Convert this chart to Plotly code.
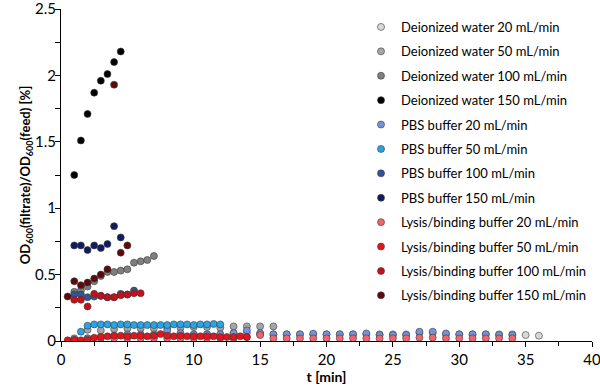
import plotly.graph_objects as go

# ---------------- data ----------------
t_di20 = [1, 2, 3, 4, 5, 6, 7, 8, 9, 10, 11, 12, 13, 14, 15, 16, 17, 18, 19, 20,
          21, 22, 23, 24, 25, 26, 27, 28, 29, 30, 31, 32, 33, 34, 35, 36]
v_di20 = [0.01, 0.02, 0.03, 0.03, 0.04, 0.04, 0.04, 0.05, 0.05, 0.05, 0.05, 0.05,
          0.06, 0.06, 0.05, 0.05, 0.05, 0.05, 0.05, 0.05, 0.05, 0.05, 0.05, 0.05,
          0.05, 0.05, 0.06, 0.06, 0.05, 0.05, 0.05, 0.05, 0.05, 0.05, 0.045, 0.04]

t_di50 = [1, 2, 3, 4, 5, 6, 7, 8, 9, 10, 11, 12, 13, 14, 15, 16]
v_di50 = [0.02, 0.085, 0.08, 0.09, 0.095, 0.095, 0.095, 0.1, 0.1, 0.105, 0.105, 0.1,
          0.11, 0.11, 0.11, 0.11]

t_di100 = [1, 1.5, 2, 2.5, 3, 3.5, 4, 4.5, 5, 5.5, 6, 6.5, 7]
v_di100 = [0.37, 0.38, 0.41, 0.45, 0.49, 0.52, 0.52, 0.53, 0.54, 0.59, 0.60, 0.61, 0.64]

t_di150 = [1, 1.5, 2, 2.5, 3, 3.5, 4, 4.5]
v_di150 = [1.25, 1.51, 1.71, 1.87, 1.96, 2.01, 2.10, 2.18]

t_pbs20 = [1, 2, 3, 4, 5, 6, 7, 8, 9, 10, 11, 12, 13, 14, 15, 16, 17, 18, 19, 20,
           21, 22, 23, 24, 25, 26, 27, 28, 29, 30, 31, 32, 33, 34]
v_pbs20 = [0.01, 0.02, 0.03, 0.04, 0.05, 0.05, 0.05, 0.08, 0.06, 0.05, 0.05, 0.05,
           0.06, 0.08, 0.06, 0.05, 0.05, 0.05, 0.055, 0.05, 0.05, 0.05, 0.057, 0.045,
           0.045, 0.045, 0.07, 0.07, 0.057, 0.05, 0.05, 0.05, 0.045, 0.045]

t_pbs50 = [1.5, 2, 2.5, 3, 3.5, 4, 4.5, 5, 5.5, 6, 6.5, 7, 7.5, 8, 8.5, 9, 9.5, 10,
           10.5, 11, 11.5, 12]
v_pbs50 = [0.07, 0.115, 0.125, 0.125, 0.125, 0.12, 0.125, 0.125, 0.12, 0.12, 0.12,
           0.12, 0.12, 0.12, 0.125, 0.125, 0.125, 0.12, 0.125, 0.125, 0.128, 0.125]

t_pbs100 = [1, 1.5, 2, 2.5, 3, 3.5, 4, 4.5, 5, 5.5]
v_pbs100 = [0.35, 0.35, 0.33, 0.335, 0.34, 0.33, 0.33, 0.355, 0.35, 0.38]

t_pbs150 = [1, 1.5, 2, 2.5, 3, 3.5, 4, 4.5]
v_pbs150 = [0.72, 0.72, 0.685, 0.72, 0.70, 0.73, 0.865, 0.78]

t_lb20 = [1, 2, 3, 4, 5, 6, 7, 8, 9, 10, 11, 12, 13, 14, 15, 16, 17, 18, 19, 20,
          21, 22, 23, 24, 25, 26, 27, 28, 29, 30, 31, 32, 33, 34]
v_lb20 = [0.005, 0.01, 0.02, 0.02, 0.02, 0.02, 0.02, 0.02, 0.02, 0.02, 0.02, 0.02,
          0.02, 0.03, 0.045, 0.02, 0.02, 0.02, 0.02, 0.02, 0.02, 0.02, 0.02, 0.02,
          0.02, 0.02, 0.025, 0.025, 0.02, 0.02, 0.02, 0.02, 0.02, 0.02]

t_lb50 = [0.5, 1, 1.5, 2, 2.5, 3, 3.5, 4, 4.5, 5, 5.5, 6, 6.5, 7, 7.5, 8, 8.5, 9,
          9.5, 10, 10.5, 11, 11.5, 12, 12.5, 13, 13.5, 14]
v_lb50 = [0.005, 0.005, 0.005, 0.005, 0.025, 0.03, 0.035, 0.04, 0.04, 0.035, 0.04,
          0.04, 0.035, 0.04, 0.052, 0.04, 0.035, 0.04, 0.035, 0.035, 0.035, 0.035,
          0.035, 0.03, 0.03, 0.03, 0.035, 0.03]

t_lb100 = [1, 1.5, 2, 2.5, 3, 3.5, 4, 4.5, 5, 5.5, 6]
v_lb100 = [0.31, 0.31, 0.26, 0.355, 0.34, 0.33, 0.33, 0.345, 0.35, 0.36, 0.36]

t_lb150 = [0.5, 1, 1.5, 2, 2.5, 3, 3.5, 4, 4.5, 5]
v_lb150 = [0.335, 0.45, 0.42, 0.44, 0.47, 0.50, 0.54, 1.93, 0.665, 0.72]

names = ["Deionized water 20 mL/min", "Deionized water 50 mL/min",
         "Deionized water 100 mL/min", "Deionized water 150 mL/min",
         "PBS buffer 20 mL/min", "PBS buffer 50 mL/min",
         "PBS buffer 100 mL/min", "PBS buffer 150 mL/min",
         "Lysis/binding buffer 20 mL/min", "Lysis/binding buffer 50 mL/min",
         "Lysis/binding buffer 100 mL/min", "Lysis/binding buffer 150 mL/min"]
colors = ["#d9d9d9", "#a6a6a6", "#7f7f7f", "#000000",
          "#7394da", "#29a4e6", "#2f5597", "#0f1c5e",
          "#f2646c", "#e3141c", "#c4101a", "#5e0a0c"]

xs = [t_di20, t_di50, t_di100, t_di150, t_pbs20, t_pbs50, t_pbs100, t_pbs150,
      t_lb20, t_lb50, t_lb100, t_lb150]
ys = [v_di20, v_di50, v_di100, v_di150, v_pbs20, v_pbs50, v_pbs100, v_pbs150,
      v_lb20, v_lb50, v_lb100, v_lb150]

FONT = "Lato"

fig = go.Figure()
for i, (n, c, x, y) in enumerate(zip(names, colors, xs, ys)):
    fig.add_trace(go.Scatter(
        x=x, y=y, mode="markers", name=n, legendgroup=f"g{i}",
        marker=dict(size=7, color=c, line=dict(color="#3a3a3a", width=0.6)),
    ))

fig.update_layout(
    width=600, height=392,
    margin=dict(l=61, r=8, t=9, b=51),
    paper_bgcolor="white", plot_bgcolor="white",
    font=dict(family=FONT, size=14, color="black"),
    showlegend=True,
    legend=dict(
        x=0.565, y=0.991, xanchor="left", yanchor="top",
        bgcolor="rgba(0,0,0,0)", font=dict(size=13, family=FONT),
        tracegroupgap=4.5, itemwidth=30,
    ),
    xaxis=dict(
        range=[0, 40], tickvals=[0, 5, 10, 15, 20, 25, 30, 35, 40],
        showgrid=False, zeroline=False, showline=True, linecolor="black",
        linewidth=1, ticks="outside", ticklen=5, tickcolor="black",
        minor=dict(dtick=2.5, ticks="outside", ticklen=4, tickcolor="black"),
        tickfont=dict(size=15), automargin=False, ticklabeloverflow="allow",
        title=dict(text="<b>t [min]</b>", font=dict(size=14), standoff=4),
    ),
    yaxis=dict(
        range=[0, 2.5], tickvals=[0, 0.5, 1, 1.5, 2, 2.5],
        ticktext=["0", "0.5", "1", "1.5", "2", "2.5"],
        showgrid=False, zeroline=False, showline=True, linecolor="black",
        linewidth=1, ticks="outside", ticklen=5, tickcolor="black",
        minor=dict(dtick=0.25, ticks="outside", ticklen=5, tickcolor="black"),
        tickfont=dict(size=15), automargin=False, ticklabeloverflow="allow",
        ticklabelstandoff=-4,
        title=dict(text="<b>OD<sub>600</sub>(filtrate)/OD<sub>600</sub>(feed) [%]</b>",
                   font=dict(size=13), standoff=0),
    ),
)

fig.write_html("out.html", config={"displayModeBar": False},
               post_script="document.body.style.margin='0';")
